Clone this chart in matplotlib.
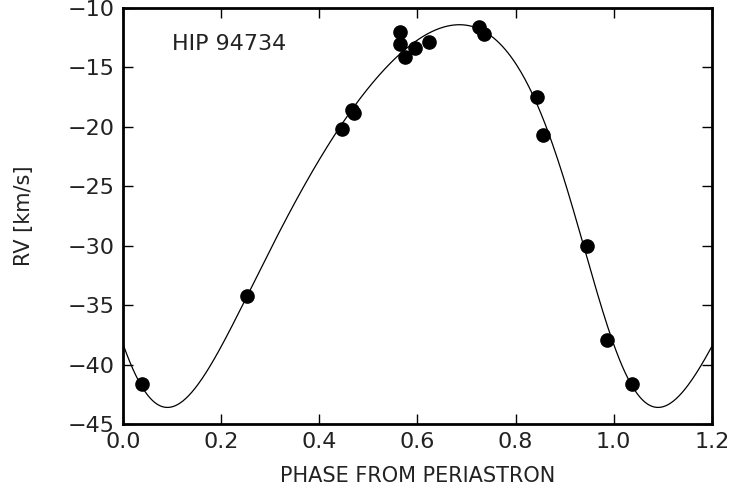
import numpy as np
import matplotlib
matplotlib.use("Agg")
import matplotlib.pyplot as plt

# observed radial velocities, folded on the orbital period
PHASE = [0.038, 0.253, 0.446, 0.467, 0.471, 0.564, 0.564, 0.575, 0.595,
         0.623, 0.725, 0.736, 0.843, 0.856, 0.945, 0.986, 1.037]
RV = [-41.6, -34.2, -20.2, -18.6, -18.8, -12.0, -13.0, -14.1, -13.4,
      -12.9, -11.6, -12.2, -17.5, -20.7, -30.0, -37.9, -41.6]

# orbital elements of the fitted solution
K_AMP = 16.1      # km/s
ECC = 0.20
OMEGA_DEG = 132.0
GAMMA = -25.35    # km/s

STAR = "HIP 94734"


def orbit_rv(phase):
    m = 2 * np.pi * np.asarray(phase)
    E = m.copy()
    for _ in range(50):
        E = E - (E - ECC * np.sin(E) - m) / (1 - ECC * np.cos(E))
    nu = 2 * np.arctan2(np.sqrt(1 + ECC) * np.sin(E / 2),
                        np.sqrt(1 - ECC) * np.cos(E / 2))
    w = np.radians(OMEGA_DEG)
    return GAMMA + K_AMP * (np.cos(nu + w) + ECC * np.cos(w))


plt.rcParams["font.family"] = ["DejaVu Sans"]
plt.rcParams["text.color"] = "#222222"
plt.rcParams["axes.labelcolor"] = "#222222"
fig = plt.figure(figsize=(7.3, 4.95), dpi=100)
ax = fig.add_axes([0.1685, 0.1434, 0.8065, 0.8404])

ph = np.linspace(0, 1.2, 600)
ax.plot(ph, orbit_rv(ph), color="black", lw=0.9)
ax.plot(PHASE, RV, "o", color="black", ms=9.5, mec="black")

ax.set_xlim(0, 1.2)
ax.set_ylim(-45, -10)
ax.set_xticks(np.arange(0, 1.21, 0.2))
ax.set_xticklabels([f"{v:.1f}" for v in np.arange(0, 1.21, 0.2)])
ax.set_yticks(np.arange(-45, -9, 5))
ax.set_yticklabels([f"\u2212{abs(v)}" for v in range(-45, -9, 5)])
ax.tick_params(direction="in", length=7, width=1, top=True, right=True,
               labelsize=16, pad=6, labelcolor="#222222")
for s in ax.spines.values():
    s.set_linewidth(2)

ax.set_xlabel("PHASE FROM PERIASTRON", fontsize=15, labelpad=10)
ax.set_ylabel("RV [km/s]", fontsize=15, labelpad=24)
ax.text(0.1, -13.0, STAR, fontsize=16, ha="left", va="center")

fig.savefig("out.png", dpi=100)
